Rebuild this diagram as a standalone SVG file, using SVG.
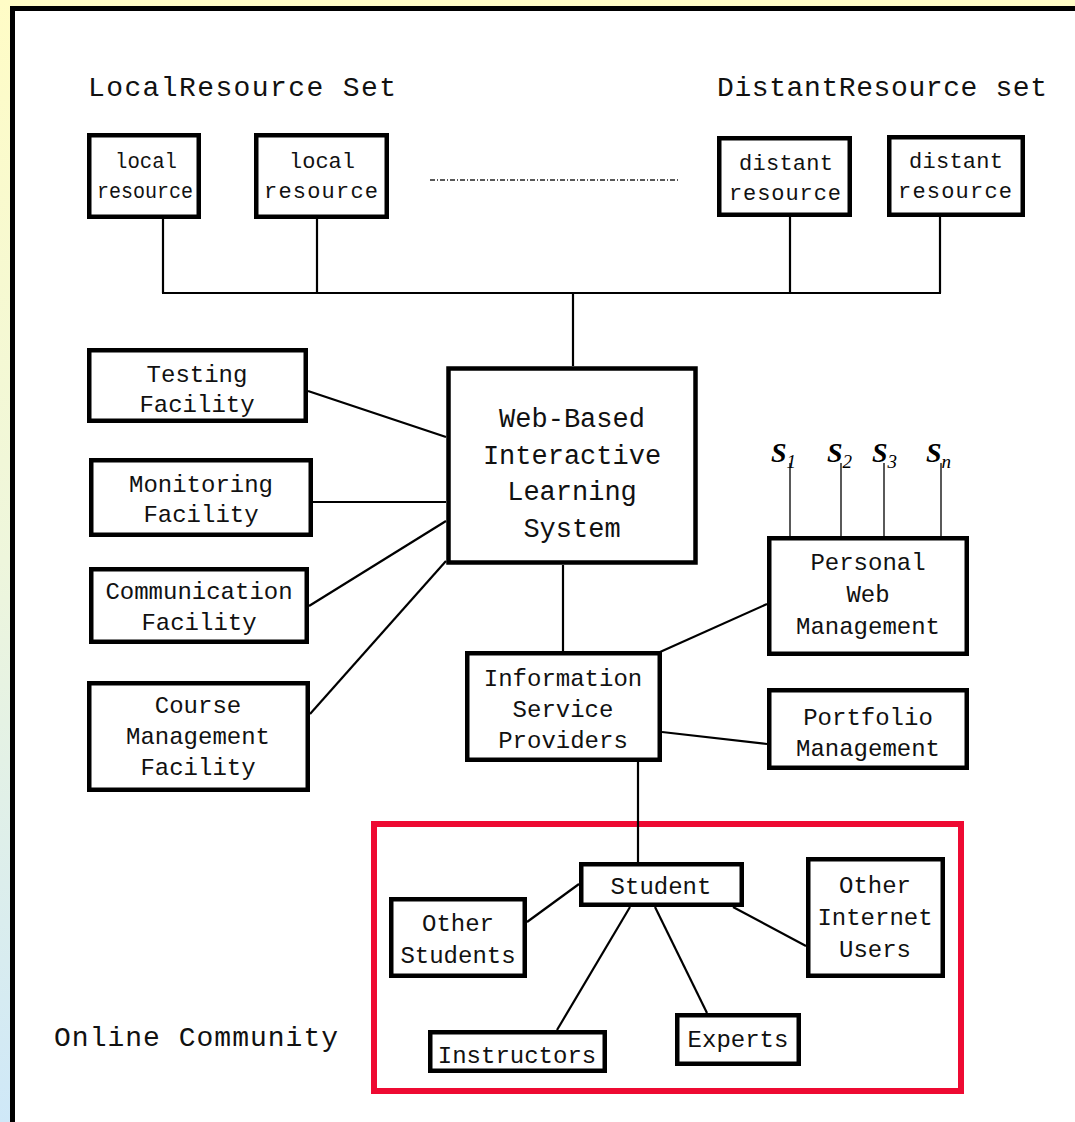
<svg xmlns="http://www.w3.org/2000/svg" width="1075" height="1122" viewBox="0 0 1075 1122">
  <defs>
    <linearGradient id="bg" x1="0" y1="0" x2="0" y2="1">
      <stop offset="0" stop-color="#fffcc6"/>
      <stop offset="0.5" stop-color="#eef6dc"/>
      <stop offset="1" stop-color="#cfe8f8"/>
    </linearGradient>
    <style>
      .box { fill: #ffffff; stroke: #000000; stroke-width: 4.5; }
      .link { stroke: #000000; stroke-width: 2.2; fill: none; }
      .thin { stroke: #000000; stroke-width: 1.3; fill: none; }
      .lbl { font-family: "Liberation Mono", "DejaVu Sans Mono", monospace; font-size: 24px; fill: #111111; text-anchor: middle; }
      .res { font-size: 22px; }
      .big { font-size: 27px; }
      .title { font-family: "Liberation Mono", "DejaVu Sans Mono", monospace; font-size: 28px; fill: #111111; }
      .s { font-family: "Liberation Serif", "DejaVu Serif", serif; font-style: italic; font-weight: bold; font-size: 28px; fill: #000000; }
      .sub { font-size: 19px; font-weight: normal; }
    </style>
  </defs>

  <!-- page background and framed white panel -->
  <rect x="0" y="0" width="1075" height="1122" fill="url(#bg)"/>
  <rect x="12.5" y="8.5" width="1080" height="1130" fill="#ffffff" stroke="#000000" stroke-width="5"/>

  <!-- section titles -->
  <text class="title" x="88" y="96" textLength="308" lengthAdjust="spacing">LocalResource Set</text>
  <text class="title" x="717" y="96" textLength="330" lengthAdjust="spacing">DistantResource set</text>
  <text class="title" x="54" y="1046" font-size="26" textLength="284" lengthAdjust="spacing">Online Community</text>

  <!-- online community frame -->
  <rect x="374" y="824" width="587" height="267" fill="none" stroke="#ee0a32" stroke-width="6"/>

  <!-- connectors -->
  <g id="connectors">
    <line class="link" x1="163" y1="219" x2="163" y2="293"/>
    <line class="link" x1="317" y1="219" x2="317" y2="293"/>
    <line class="link" x1="790" y1="217" x2="790" y2="293"/>
    <line class="link" x1="940" y1="217" x2="940" y2="293"/>
    <line class="link" x1="162" y1="293" x2="941" y2="293"/>
    <line class="link" x1="573" y1="293" x2="573" y2="366"/>
    <line x1="430" y1="180" x2="678" y2="180" stroke="#222222" stroke-width="1.5" stroke-dasharray="5 2 1 2"/>
    <line class="link" x1="308" y1="391" x2="446" y2="437"/>
    <line class="link" x1="313" y1="502" x2="446" y2="502"/>
    <line class="link" x1="309" y1="606" x2="446" y2="521"/>
    <line class="link" x1="310" y1="714" x2="446" y2="561"/>
    <line class="link" x1="563" y1="565" x2="563" y2="651"/>
    <line class="link" x1="660" y1="652" x2="767" y2="604"/>
    <line class="link" x1="662" y1="732" x2="767" y2="744"/>
    <line class="link" x1="638" y1="762" x2="638" y2="862"/>
    <line class="link" x1="579" y1="884" x2="527" y2="922"/>
    <line class="link" x1="630" y1="907" x2="557" y2="1030"/>
    <line class="link" x1="655" y1="907" x2="707" y2="1013"/>
    <line class="link" x1="733" y1="907" x2="806" y2="946"/>
    <line class="thin" x1="790" y1="463" x2="790" y2="536"/>
    <line class="thin" x1="841" y1="463" x2="841" y2="536"/>
    <line class="thin" x1="884" y1="463" x2="884" y2="536"/>
    <line class="thin" x1="941" y1="463" x2="941" y2="536"/>
  </g>

  <!-- resource nodes -->
  <g id="local-resource-1">
    <rect class="box" x="89.25" y="135.25" width="109.5" height="81.5"/>
    <text class="lbl res" x="146" y="168" textLength="62" lengthAdjust="spacingAndGlyphs">local</text>
    <text class="lbl res" x="145" y="198" textLength="96" lengthAdjust="spacingAndGlyphs">resource</text>
  </g>
  <g id="local-resource-2">
    <rect class="box" x="256.25" y="135.25" width="130.5" height="81.5"/>
    <text class="lbl res" x="322" y="168">local</text>
    <text class="lbl res" x="321" y="198" textLength="114" lengthAdjust="spacing">resource</text>
  </g>
  <g id="distant-resource-1">
    <rect class="box" x="719.25" y="138.25" width="130.5" height="76.5"/>
    <text class="lbl res" x="786" y="170" textLength="94" lengthAdjust="spacing">distant</text>
    <text class="lbl res" x="785" y="200" textLength="112" lengthAdjust="spacing">resource</text>
  </g>
  <g id="distant-resource-2">
    <rect class="box" x="889.25" y="137.25" width="133.5" height="77.5"/>
    <text class="lbl res" x="956" y="168" textLength="94" lengthAdjust="spacing">distant</text>
    <text class="lbl res" x="955" y="198" textLength="114" lengthAdjust="spacing">resource</text>
  </g>

  <!-- central system -->
  <g id="learning-system">
    <rect class="box" x="448.5" y="368.5" width="247" height="194" stroke-width="5"/>
    <text class="lbl big" x="572" y="427">Web-Based</text>
    <text class="lbl big" x="572" y="464">Interactive</text>
    <text class="lbl big" x="572" y="500">Learning</text>
    <text class="lbl big" x="572" y="537">System</text>
  </g>

  <!-- facilities -->
  <g id="testing-facility">
    <rect class="box" x="89.25" y="350.25" width="216.5" height="70.5"/>
    <text class="lbl" x="197" y="382">Testing</text>
    <text class="lbl" x="197" y="412">Facility</text>
  </g>
  <g id="monitoring-facility">
    <rect class="box" x="91.25" y="460.25" width="219.5" height="74.5"/>
    <text class="lbl" x="201" y="492">Monitoring</text>
    <text class="lbl" x="201" y="522">Facility</text>
  </g>
  <g id="communication-facility">
    <rect class="box" x="91.25" y="569.25" width="215.5" height="72.5"/>
    <text class="lbl" x="199" y="599">Communication</text>
    <text class="lbl" x="199" y="630">Facility</text>
  </g>
  <g id="course-management-facility">
    <rect class="box" x="89.25" y="683.25" width="218.5" height="106.5"/>
    <text class="lbl" x="198" y="713">Course</text>
    <text class="lbl" x="198" y="744">Management</text>
    <text class="lbl" x="198" y="775">Facility</text>
  </g>

  <!-- personal services -->
  <g id="s-labels">
    <text class="s" x="771" y="462">S<tspan class="sub" dy="6">1</tspan></text>
    <text class="s" x="827" y="462">S<tspan class="sub" dy="6">2</tspan></text>
    <text class="s" x="872" y="462">S<tspan class="sub" dy="6">3</tspan></text>
    <text class="s" x="926" y="462">S<tspan class="sub" dy="6">n</tspan></text>
  </g>
  <g id="personal-web-management">
    <rect class="box" x="769.25" y="538.25" width="197.5" height="115.5"/>
    <text class="lbl" x="868" y="570">Personal</text>
    <text class="lbl" x="868" y="602">Web</text>
    <text class="lbl" x="868" y="634">Management</text>
  </g>
  <g id="information-service-providers">
    <rect class="box" x="467.25" y="653.25" width="192.5" height="106.5"/>
    <text class="lbl" x="563" y="686">Information</text>
    <text class="lbl" x="563" y="717">Service</text>
    <text class="lbl" x="563" y="748">Providers</text>
  </g>
  <g id="portfolio-management">
    <rect class="box" x="769.25" y="690.25" width="197.5" height="77.5"/>
    <text class="lbl" x="868" y="725">Portfolio</text>
    <text class="lbl" x="868" y="756">Management</text>
  </g>

  <!-- online community members -->
  <g id="student">
    <rect class="box" x="581.25" y="864.25" width="160.5" height="40.5"/>
    <text class="lbl" x="661" y="894">Student</text>
  </g>
  <g id="other-students">
    <rect class="box" x="391.25" y="899.25" width="133.5" height="76.5"/>
    <text class="lbl" x="458" y="931">Other</text>
    <text class="lbl" x="458" y="963">Students</text>
  </g>
  <g id="other-internet-users">
    <rect class="box" x="808.25" y="859.25" width="134.5" height="116.5"/>
    <text class="lbl" x="875" y="893">Other</text>
    <text class="lbl" x="875" y="925">Internet</text>
    <text class="lbl" x="875" y="957">Users</text>
  </g>
  <g id="instructors">
    <rect class="box" x="430.25" y="1032.25" width="174.5" height="38.5"/>
    <text class="lbl" x="517" y="1063">Instructors</text>
  </g>
  <g id="experts">
    <rect class="box" x="677.25" y="1015.25" width="121.5" height="48.5"/>
    <text class="lbl" x="738" y="1047">Experts</text>
  </g>
</svg>
